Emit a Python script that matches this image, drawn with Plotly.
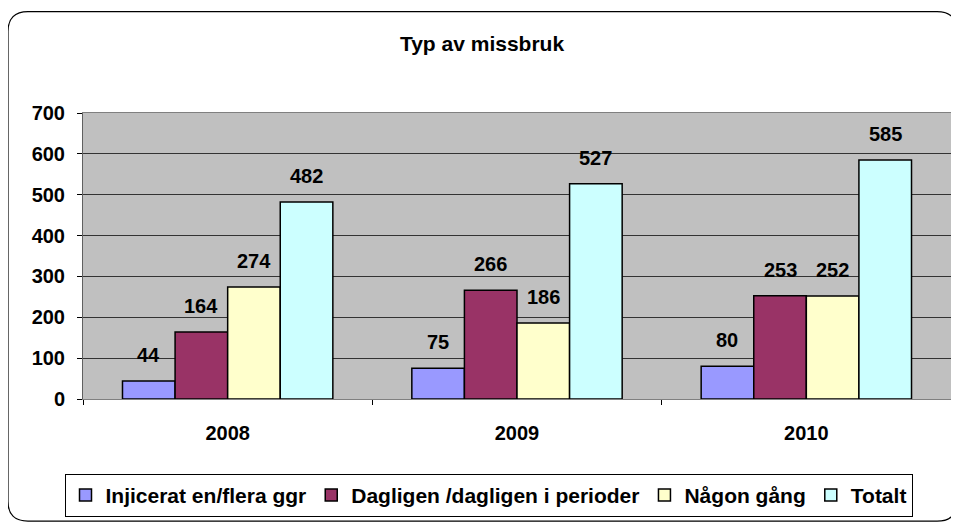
import plotly.graph_objects as go

years = ["2008", "2009", "2010"]
series_names = ["Injicerat en/flera ggr", "Dagligen /dagligen i perioder", "Någon gång", "Totalt"]
injicerat = [44, 75, 80]
dagligen = [164, 266, 253]
nagon_gang = [274, 186, 252]
totalt = [482, 527, 585]
y_ticks = [0, 100, 200, 300, 400, 500, 600, 700]

series_values = [injicerat, dagligen, nagon_gang, totalt]
colors = ["#9999FF", "#993366", "#FFFFCC", "#CCFFFF"]

WIN_W, WIN_H = 959, 525
O = 8                              # page body margin
W, H = WIN_W - O, WIN_H - O
L, R, T, B = 83, 951, 113, 401     # plot area in window pixels
BARGAP = 0.273
FONT = "Liberation Sans, Arial, sans-serif"


def px_x(p):
    return (p - L) / (R - L)


def px_y(p):
    return (B - p) / (B - T)


fig = go.Figure()
for name, vals, col in zip(series_names, series_values, colors):
    fig.add_trace(go.Bar(
        x=years, y=vals, name=name,
        marker=dict(color=col, line=dict(color="black", width=1.5)),
    ))

# data labels above bars
n = len(series_values)
bw = (1 - BARGAP) / n
for j, vals in enumerate(series_values):
    for i, v in enumerate(vals):
        fig.add_annotation(
            x=i + (j - (n - 1) / 2) * bw, y=v, xref="x", yref="y",
            text=str(v), showarrow=False, yanchor="middle", yshift=26,
            font=dict(family=FONT, size=20, color="black", weight="bold"),
        )

# outer rounded chart border
xl, xr = px_x(8), px_x(957)
yt, yb = px_y(11), px_y(524)
rx, ry = 20 / (R - L), 20 / (B - T)
path = (f"M{xl + rx},{yt} L{xr - rx},{yt} Q{xr},{yt} {xr},{yt - ry} "
        f"L{xr},{yb + ry} Q{xr},{yb} {xr - rx},{yb} "
        f"L{xl + rx},{yb} Q{xl},{yb} {xl},{yb + ry} "
        f"L{xl},{yt - ry} Q{xl},{yt} {xl + rx},{yt} Z")
fig.add_shape(type="path", path=path, xref="paper", yref="paper",
              line=dict(color="black", width=1.2), layer="below")

fig.update_layout(
    width=W, height=H,
    margin=dict(l=L - O, r=WIN_W - R, t=T - O, b=WIN_H - B, pad=0),
    paper_bgcolor="white",
    plot_bgcolor="#C0C0C0",
    barmode="group", bargap=BARGAP, bargroupgap=0,
    title=dict(text="Typ av missbruk", x=(482 - O) / W, xref="container", xanchor="center",
               y=1 - (44 - O) / H, yref="container", yanchor="middle",
               font=dict(family=FONT, size=21, color="black", weight="bold")),
    showlegend=True,
    legend=dict(orientation="h", x=px_x(488.5), xanchor="center",
                y=px_y(498), yanchor="middle",
                bordercolor="black", borderwidth=1, bgcolor="white",
                font=dict(family=FONT, size=21, color="black", weight="bold"),
                traceorder="normal"),
    xaxis=dict(type="category", showgrid=False,
               showline=True, linecolor="#808080", linewidth=1, mirror=True,
               ticks="outside", tickson="boundaries", ticklen=5, tickcolor="black",
               ticklabelstandoff=16,
               tickfont=dict(family=FONT, size=20, color="black", weight="bold")),
    yaxis=dict(range=[0, 700], tickvals=y_ticks, showgrid=True,
               gridcolor="#333333", gridwidth=1,
               zeroline=True, zerolinecolor="black", zerolinewidth=1,
               showline=True, linecolor="#606060", linewidth=1, mirror=True,
               ticks="outside", ticklen=5, tickcolor="black",
               ticklabelstandoff=8,
               tickfont=dict(family=FONT, size=20, color="black", weight="bold")),
)

fig.write_html("out.html")
